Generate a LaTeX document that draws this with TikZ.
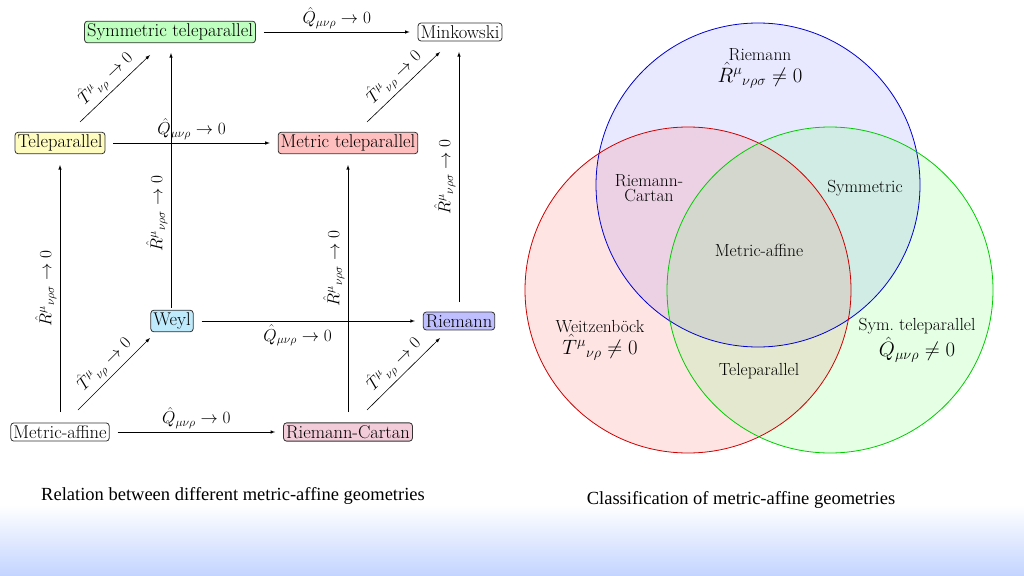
\documentclass[tikz,border=0pt]{standalone}
\usepackage{fontspec}
\newfontfamily\capfont{Liberation Serif}
\usepackage{amsmath}
\begin{document}
\begin{tikzpicture}[x=1pt,y=-1pt,
 nd/.style={draw=black!80,thick,rounded corners=3pt,inner sep=2.5pt,font=\fontsize{18.5}{21}\selectfont},
 ar/.style={-latex,semithick},
 lb/.style={font=\fontsize{18}{20}\selectfont},
 vt/.style={font=\fontsize{17.5}{20}\selectfont,align=center}]
\useasboundingbox (0,0) rectangle (1024,575);
\shade[top color=white,bottom color=blue!20!cyan!10!white!85!blue] (0,505) rectangle (1024,575);
% nodes
\node[nd,fill=green!25] (st) at (170,32) {Symmetric teleparallel};
\node[nd,fill=white] (mk) at (460,32) {Minkowski};
\node[nd,fill=yellow!25] (tp) at (60,143) {Teleparallel};
\node[nd,fill=red!25] (mt) at (348,143) {Metric teleparallel};
\node[nd,fill=cyan!25] (wy) at (172,321) {Weyl};
\node[nd,fill=blue!25] (ri) at (459,321) {Riemann};
\node[nd,fill=white] (ma) at (60,432) {Metric-affine};
\node[nd,fill=purple!20] (rc) at (348,432) {Riemann-Cartan};
% coordinates for connector ends
\coordinate (a1) at (60,412); \coordinate (a2) at (60,165);
\coordinate (b1) at (171,308); \coordinate (b2) at (171,53);
\coordinate (c1) at (348,412); \coordinate (c2) at (348,165);
\coordinate (e1) at (459,302); \coordinate (e2) at (459,52);
\coordinate (d1) at (78,410); \coordinate (d2) at (80,122); \coordinate (d3) at (367,410); \coordinate (d4) at (367,122);
\coordinate (f1) at (150,338); \coordinate (f2) at (150,55); \coordinate (f3) at (440,338); \coordinate (f4) at (440,52);
% horizontals
\draw[ar] ([xshift=8]st.east) -- ([xshift=-8]mk.west) node[midway,above,lb]{$\hat Q_{\mu\nu\rho}\to0$};
\draw[ar] ([xshift=8]tp.east) -- ([xshift=-8]mt.west) node[pos=0.5,above,lb]{$\hat Q_{\mu\nu\rho}\to0$};
\draw[ar] ([xshift=8]wy.east) -- ([xshift=-8]ri.west) node[pos=0.45,below,lb]{$\hat Q_{\mu\nu\rho}\to0$};
\draw[ar] ([xshift=8]ma.east) -- ([xshift=-8]rc.west) node[midway,above,lb]{$\hat Q_{\mu\nu\rho}\to0$};
% verticals
\draw[ar] (a1) -- (a2) node[pos=0.5,above,sloped,lb]{$\hat R^\mu{}_{\nu\rho\sigma}\to0$};
\draw[ar] (b1) -- (b2) node[pos=0.37,above,sloped,lb]{$\hat R^\mu{}_{\nu\rho\sigma}\to0$};
\draw[ar] (c1) -- (c2) node[pos=0.58,above,sloped,lb]{$\hat R^\mu{}_{\nu\rho\sigma}\to0$};
\draw[ar] (e1) -- (e2) node[pos=0.5,above,sloped,lb]{$\hat R^\mu{}_{\nu\rho\sigma}\to0$};
% diagonals
\draw[ar] (d1) -- (f1) node[midway,above,sloped,lb]{$\hat T^\mu{}_{\nu\rho}\to0$};
\draw[ar] (d2) -- (f2) node[midway,above,sloped,lb]{$\hat T^\mu{}_{\nu\rho}\to0$};
\draw[ar] (d3) -- (f3) node[midway,above,sloped,lb]{$\hat T^\mu{}_{\nu\rho}\to0$};
\draw[ar] (d4) -- (f4) node[midway,above,sloped,lb]{$\hat T^\mu{}_{\nu\rho}\to0$};
% Venn
\fill[blue!60,opacity=0.15] (758,185) circle (162);
\fill[red!70,opacity=0.15] (688,290) circle (163);
\fill[green!70,opacity=0.15] (830,290) circle (163);
\draw[blue!80!black,thick] (758,185) circle (162);
\draw[red!80!black,thick] (688,290) circle (163);
\draw[green!80!black,thick] (830,290) circle (163);
\node[vt] (v1) at (760,68) {Riemann\\[2pt]{\fontsize{22}{24}\selectfont$\hat R^\mu{}_{\nu\rho\sigma}\neq0$}};
\node[vt] (v2) at (649,188) {Riemann-\\[-5pt]Cartan};
\node[vt] (v3) at (865,188) {Symmetric};
\node[vt] (v4) at (759,250) {Metric-affine};
\node[vt] (v5) at (600,340) {Weitzenböck\\[2pt]{\fontsize{22}{24}\selectfont$\hat T^\mu{}_{\nu\rho}\neq0$}};
\node[vt] (v6) at (759,371) {Teleparallel};
\node[vt] (v7) at (917,340) {Sym.\ teleparallel\\[2pt]{\fontsize{22}{24}\selectfont$\hat Q_{\mu\nu\rho}\neq0$}};
% captions
\node[font=\capfont\fontsize{18.5}{20}\selectfont] (cap1) at (233,496) {Relation between different metric-affine geometries};
\node[font=\capfont\fontsize{18.5}{20}\selectfont] (cap2) at (741,500) {Classification of metric-affine geometries};
\end{tikzpicture}
\end{document}
